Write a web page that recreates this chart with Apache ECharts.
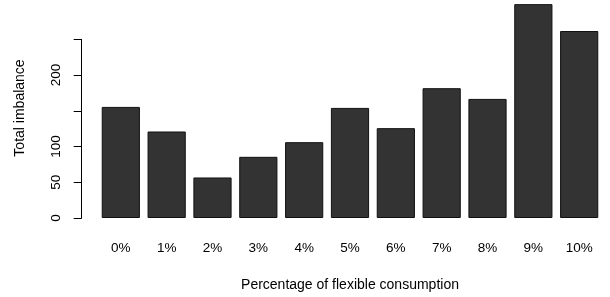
<!DOCTYPE html>
<html>
<head>
<meta charset="utf-8">
<script src="https://cdn.jsdelivr.net/npm/echarts@6/dist/echarts.min.js"></script>
<style>
	html,body{margin:0;padding:0;background:#fff;}
	#imbalanceChart{width:610px;height:297px;}
</style>
</head>
<body>
<div id="imbalanceChart"></div>
<script>
// categories and values
var flexCategories = ['0%','1%','2%','3%','4%','5%','6%','7%','8%','9%','10%'];
var imbalanceValues = [155.4, 121.0, 56.7, 85.6, 106.1, 154.0, 125.7, 181.6, 166.6, 299.2, 261.6];

// y axis ticks (150 and 250 are drawn without label)
var yTicks = [0, 50, 100, 150, 200, 250];
var yTickLabels = ['0', '50', '100', '', '200', ''];

var fontName = 'Liberation Sans, Arial, sans-serif';

var imbalanceChart = echarts.init(document.getElementById('imbalanceChart'));

var imbalanceChart_option = {
	backgroundColor:'#fff',
	animation:false,
	grid:{
		left:97.9,
		right:7.9,
		top:39.3,
		bottom:78.7
	},
	xAxis:{
		type:'category',
		data:flexCategories,
		name:'Percentage of flexible consumption',
		nameLocation:'middle',
		nameGap:60,
		nameTextStyle:{
			color:'#000',
			fontSize:14,
			fontFamily:fontName
		},
		axisLine:{show:false},
		axisTick:{show:false},
		splitLine:{show:false},
		axisLabel:{
			color:'#000',
			fontSize:13.5,
			fontFamily:fontName,
			margin:23.5,
			interval:0
		}
	},
	yAxis:{
		type:'value',
		min:yTicks[0],
		max:yTicks[yTicks.length-1],
		interval:50,
		offset:16.2,
		splitLine:{show:false},
		axisLine:{
			show:true,
			lineStyle:{color:'#000',width:1}
		},
		axisTick:{
			show:true,
			length:8,
			lineStyle:{color:'#000',width:1}
		},
		axisLabel:{
			color:'#000',
			fontSize:13.5,
			fontFamily:fontName,
			rotate:90,
			margin:18.5,
			formatter:function(v){
				var idx = yTicks.indexOf(v);
				return idx == -1 ? '' : yTickLabels[idx];
			}
		}
	},
	graphic:{
		elements:[
			{
				type:'text',
				x:20.5,
				y:108,
				rotation:Math.PI/2,
				style:{
					text:'Total imbalance',
					fill:'#000',
					fontSize:14,
					fontFamily:fontName,
					align:'center',
					verticalAlign:'middle'
				}
			}
		]
	},
	series:[
		{
			name:'Total imbalance',
			type:'bar',
			data:imbalanceValues,
			barCategoryGap:'16.67%',
			clip:false,
			itemStyle:{
				color:'#333333',
				borderColor:'#111111',
				borderWidth:1
			}
		}
	]
};

imbalanceChart.setOption(imbalanceChart_option);
</script>
</body>
</html>
